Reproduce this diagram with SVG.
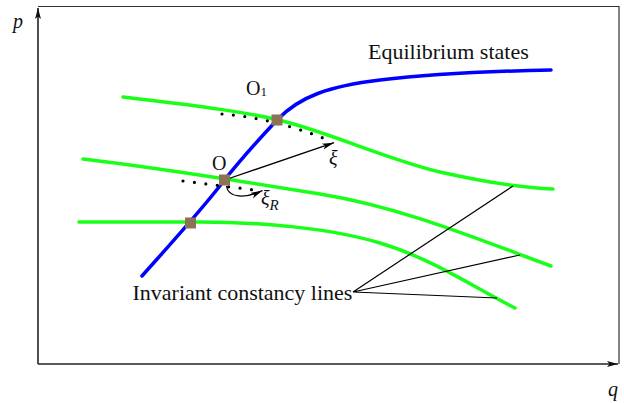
<svg xmlns="http://www.w3.org/2000/svg" width="624" height="403" viewBox="0 0 624 403">
<style>
.frame{fill:none;stroke:#333;stroke-width:1.2}
.axis{fill:none;stroke:#222;stroke-width:1.6}
.eq{fill:none;stroke:#0000ff;stroke-width:3.5;stroke-linecap:round}
.inv{fill:none;stroke:#1aff1a;stroke-width:3.5;stroke-linecap:round}
.dots{fill:none;stroke:#000;stroke-width:3.2;stroke-linecap:round;stroke-dasharray:0 11.5}
.arr{fill:none;stroke:#000;stroke-width:1.3}
.lead{fill:none;stroke:#000;stroke-width:1.2}
.pt{fill:#8b7355}
.t{font-family:"Liberation Serif","Times New Roman",serif;fill:#111}
.i{font-style:italic}
</style>
<defs>
<marker id="ah" markerUnits="userSpaceOnUse" markerWidth="14" markerHeight="10" viewBox="0 -4 14 8" refX="12" refY="0" orient="auto">
<path d="M0,-3 L12,0 L0,3 L3,0 Z" fill="#000"/>
</marker>
<marker id="axh" markerUnits="userSpaceOnUse" markerWidth="14" markerHeight="10" viewBox="0 -4 14 8" refX="11" refY="0" orient="auto">
<path d="M0,-3 L11,0 L0,3 L2.5,0 Z" fill="#111"/>
</marker>
</defs>
<g id="axes">
<path class="frame" d="M38,6.5 H619 V364"/>
<path class="axis" d="M38,364 V8" marker-end="url(#axh)"/>
<path class="axis" d="M38,364 H618" marker-end="url(#axh)"/>
<text class="t i" x="13" y="27.5" font-size="20">p</text>
<text class="t i" x="608" y="396" font-size="20">q</text>
</g>
<g id="curves">
<path id="inv1" class="inv" d="M123,97 C200,106 255,113 290,123 C340,137 390,160 440,172 C480,181 520,188 553,189"/>
<path id="inv2" class="inv" d="M83,159 C160,168 240,181 320,194 C400,207 470,236 551,266"/>
<path id="inv3" class="inv" d="M79,222 L200,222 C260,222 330,228 380,243 C430,258 470,285 515,308"/>
<path id="equilibrium" class="eq" d="M142,276 C165,250 200,212 224.5,180 C245,154 262,136 277,120 C300,96 330,86 380,80 C430,74 500,71 551,70"/>
</g>
<g id="connectors">
<path class="dots" d="M222,114 Q275,118 333,142"/>
<path class="dots" d="M183,181 L262,191"/>
<path class="arr" d="M226,179.5 L334,142.7" marker-end="url(#ah)"/>
<path class="arr" d="M226.5,186 C228,198 245,199 262.5,190.5" marker-end="url(#ah)"/>
<path class="lead" d="M353,292 L513,186 M353,292 L520,255 M353,292 L497,298"/>
</g>
<g id="node-O1">
<rect class="pt" x="271.5" y="114.5" width="11" height="11"/>
<text class="t" x="246" y="94.5" font-size="20">O<tspan font-size="13" dy="1">1</tspan></text>
</g>
<g id="node-O">
<rect class="pt" x="219" y="174.5" width="11" height="11"/>
<text class="t" x="212" y="169.5" font-size="20">O</text>
</g>
<g id="node-P">
<rect class="pt" x="185" y="217.5" width="11" height="11"/>
</g>
<g id="labels">
<text class="t" x="368" y="59" font-size="22">Equilibrium states</text>
<text class="t" x="132.5" y="300" font-size="22">Invariant constancy lines</text>
<text class="t i" x="329" y="165" font-size="20">ξ</text>
<text class="t i" x="261" y="205" font-size="20">ξ<tspan font-size="15" dy="4.5">R</tspan></text>
</g>
</svg>
